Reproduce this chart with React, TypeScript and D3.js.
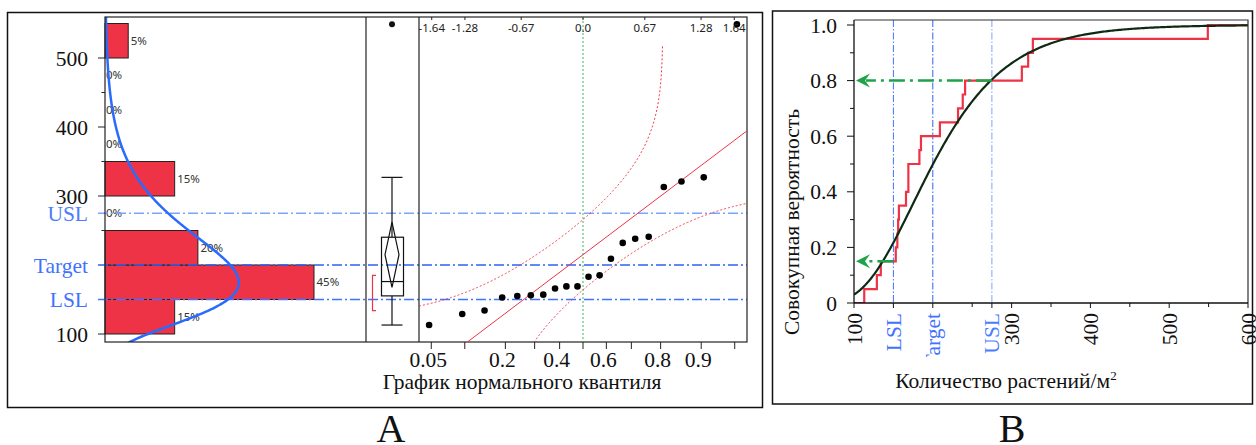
import React from 'react';
import * as d3 from 'd3';

// ---------------- data ----------------
const plantCounts = [113, 129, 134, 153, 155, 156, 157, 166, 169, 169, 183, 185, 209, 232, 238, 241, 313, 321, 327, 549];
const histBinEdges = [100, 150, 200, 250, 300, 350, 400, 450, 500, 550];
const specNames = ['LSL', 'Target', 'USL'];
const specValues = [150, 200, 275];
const histTickValues = [100, 300, 400, 500];
const histTickLabels = ['100', '300', '400', '500'];
const histMinorTicks = [250, 350, 450];
const zTickValues = [-1.64, -1.28, -0.67, 0.0, 0.67, 1.28, 1.64];
const zTickLabels = ['-1.64', '-1.28', '-0.67', '0.0', '0.67', '1.28', '1.64'];
const probTickValues = [0.05, 0.1, 0.2, 0.3, 0.4, 0.5, 0.6, 0.7, 0.8, 0.9, 0.95];
const probTickLabels = ['0.05', '0.2', '0.4', '0.6', '0.8', '0.9'];
const cdfTickValues = [0, 0.2, 0.4, 0.6, 0.8, 1.0];
const cdfTickLabels = ['0', '0.2', '0.4', '0.6', '0.8', '1.0'];
const cdfMinorTicks = [0.1, 0.3, 0.5, 0.7, 0.9];
const countTickValues = [100, 300, 400, 500, 600];
const countTickLabels = ['100', '300', '400', '500', '600'];
const countMinorTicks = [250, 350, 450, 550];
const FIT_MU = 5.30; // lognormal fit (log scale)
const FIT_SIGMA = 0.37;
const LILLIEFORS_D = 0.193;
const T_CRIT = 2.093;

// ---------------- styles ----------------
const SERIF = "'Liberation Serif','Times New Roman',serif";
const SANS = "'Noto Sans','Open Sans',sans-serif";
const RED = '#ee3347';
const specLineColors = ['#3f73ff', '#2f62f2', '#7aa5ff'];
const specTextColors = ['#3f72ff', '#3f72ff', '#4b7dff'];
const GREEN = '#1fa34a';
const FS = 21.5;

// ---------------- stats helpers ----------------
function erf(x: number) {
  const s = Math.sign(x);
  const a = Math.abs(x);
  const t = 1 / (1 + 0.3275911 * a);
  const y = 1 - (((((1.061405429 * t - 1.453152027) * t) + 1.421413741) * t - 0.284496736) * t + 0.254829592) * t * Math.exp(-a * a);
  return s * y;
}
const Phi = (z: number) => 0.5 * (1 + erf(z / Math.SQRT2));
function PhiInv(p: number) {
  const a = [-3.969683028665376e+01, 2.209460984245205e+02, -2.759285104469687e+02, 1.383577518672690e+02, -3.066479806614716e+01, 2.506628277459239e+00];
  const b = [-5.447609879822406e+01, 1.615858368580409e+02, -1.556989798598866e+02, 6.680131188771972e+01, -1.328068155288572e+01];
  const c = [-7.784894002430293e-03, -3.223964580411365e-01, -2.400758277161838e+00, -2.549671010115819e+00, 4.374664141464968e+00, 2.938163982698783e+00];
  const d = [7.784695709041462e-03, 3.224671290700398e-01, 2.445134137142996e+00, 3.754408661907416e+00];
  const plow = 0.02425;
  if (p < plow) {
    const q = Math.sqrt(-2 * Math.log(p));
    return (((((c[0] * q + c[1]) * q + c[2]) * q + c[3]) * q + c[4]) * q + c[5]) / ((((d[0] * q + d[1]) * q + d[2]) * q + d[3]) * q + 1);
  }
  if (p > 1 - plow) {
    const q = Math.sqrt(-2 * Math.log(1 - p));
    return -(((((c[0] * q + c[1]) * q + c[2]) * q + c[3]) * q + c[4]) * q + c[5]) / ((((d[0] * q + d[1]) * q + d[2]) * q + d[3]) * q + 1);
  }
  const q = p - 0.5;
  const r = q * q;
  return (((((a[0] * r + a[1]) * r + a[2]) * r + a[3]) * r + a[4]) * r + a[5]) * q / (((((b[0] * r + b[1]) * r + b[2]) * r + b[3]) * r + b[4]) * r + 1);
}
const logNormPdf = (v: number) => Math.exp(-Math.pow(Math.log(v) - FIT_MU, 2) / (2 * FIT_SIGMA * FIT_SIGMA)) / (v * FIT_SIGMA * Math.sqrt(2 * Math.PI));
const logNormCdf = (v: number) => Phi((Math.log(v) - FIT_MU) / FIT_SIGMA);

function jmpQuantile(sorted: number[], p: number) {
  const pos = (sorted.length + 1) * p;
  const i = Math.floor(pos);
  const f = pos - i;
  if (i < 1) return sorted[0];
  if (i >= sorted.length) return sorted[sorted.length - 1];
  return sorted[i - 1] + f * (sorted[i] - sorted[i - 1]);
}

export default function App() {
  const sorted = [...plantCounts].sort((a, b) => a - b);
  const n = sorted.length;
  const mean = d3.mean(sorted) as number;
  const sd = d3.deviation(sorted) as number;

  // ---- Panel A geometry ----
  const L = 105, HR = 366, BR = 419, R = 747, T = 17, B = 342;
  const yA = d3.scaleLinear().domain([100, 500]).range([334, 58]);
  const xH = d3.scaleLinear().domain([0, 45]).range([L, 314]);
  const zDom = 1.778;
  const xQ = d3.scaleLinear().domain([-zDom, zDom]).range([BR, R]);

  const bins = d3.bin().domain([100, 550]).thresholds(histBinEdges.slice(1, -1))(sorted);
  const pct = bins.map(b => (b.length / n) * 100);

  // density curve
  const vGrid = d3.range(80, 566, 2);
  const densLine = d3.line<number>().x(v => xH(logNormPdf(v) * 50 * 100)).y(v => yA(v)).curve(d3.curveBasis)(vGrid) || '';

  // box plot stats
  const q1 = jmpQuantile(sorted, 0.25);
  const q3 = jmpQuantile(sorted, 0.75);
  const med = jmpQuantile(sorted, 0.5);
  const iqr = q3 - q1;
  const upperW = d3.max(sorted.filter(v => v <= q3 + 1.5 * iqr)) as number;
  const lowerW = d3.min(sorted.filter(v => v >= q1 - 1.5 * iqr)) as number;
  const outliers = sorted.filter(v => v > upperW || v < lowerW);
  const ci = T_CRIT * sd / Math.sqrt(n);
  const half = Math.ceil(n / 2);
  let shortLo = 0, shortHi = Infinity;
  for (let i = 0; i + half - 1 < n; i++) {
    const r = sorted[i + half - 1] - sorted[i];
    if (r < shortHi - shortLo) { shortLo = sorted[i]; shortHi = sorted[i + half - 1]; }
  }
  const cx = 392;

  // quantile plot
  const qPts = sorted.map((v, i) => ({ z: PhiInv((i + 1) / (n + 1)), v }));
  const zGrid = d3.range(-zDom, zDom + 0.001, 0.005);
  const bandPts = (sign: number) => zGrid
    .map(z => ({ z, p: Phi(z) + sign * LILLIEFORS_D }))
    .filter(d => d.p > 1e-6 && d.p < 1 - 1e-6)
    .map(d => [xQ(d.z), yA(mean + sd * PhiInv(d.p))] as [number, number]);
  const upperBand = d3.line()(bandPts(1)) || '';
  const lowerBand = d3.line()(bandPts(-1)) || '';

  // ---- Panel B geometry ----
  const BL = 854, BRt = 1248, BT = 20, BB = 303;
  const xB = d3.scaleLinear().domain([100, 600]).range([BL, BRt]);
  const yB = d3.scaleLinear().domain([0, 1]).range([BB, 25]);
  const ecdfPts: [number, number][] = [[100, 0], ...sorted.map((v, i) => [v, (i + 1) / n] as [number, number]), [600, 1]];
  const ecdfPath = d3.line().x(d => xB(d[0])).y(d => yB(d[1])).curve(d3.curveStepAfter)(ecdfPts) || '';
  const cdfGrid = d3.range(100, 601, 2);
  const cdfPath = d3.line<number>().x(v => xB(v)).y(v => yB(logNormCdf(v)))(cdfGrid) || '';
  const ecdfAt = (v: number) => sorted.filter(s => s <= v).length / n;
  const arrowLevels = [specValues[2], specValues[0]].map(v => ({ v, p: ecdfAt(v) }));

  return (
    <svg width={1256} height={445} style={{ position: 'absolute', left: 0, top: 0, background: '#fff' }}>
      <defs>
        <clipPath id="clipHist"><rect x={L} y={T} width={HR - L} height={B - T} /></clipPath>
        <clipPath id="clipQ"><rect x={BR} y={T} width={R - BR} height={B - T} /></clipPath>
        <clipPath id="clipB"><rect x={BL} y={BT} width={BRt - BL} height={BB - BT} /></clipPath>
        <clipPath id="clipBTicks"><rect x={BL - 20} y={BB} width={BRt - BL + 40} height={357 - BB} /></clipPath>
      </defs>
      <rect width={1256} height={445} fill="#fff" />

      {/* ============ Panel A ============ */}
      <rect x={7.5} y={12.5} width={755} height={395} fill="none" stroke="#111" strokeWidth={1.5} />

      {/* histogram bars */}
      {bins.map((b, i) => pct[i] > 0 ? (
        <rect key={'bar' + i} x={L} y={yA(b.x1 as number)} width={xH(pct[i]) - L} height={yA(b.x0 as number) - yA(b.x1 as number)}
          fill={RED} stroke="#222" strokeWidth={1} />
      ) : null)}
      {bins.map((b, i) => (
        <text key={'pl' + i} x={pct[i] > 0 ? xH(pct[i]) + 2.5 : L + 1} y={yA(((b.x0 as number) + (b.x1 as number)) / 2)} dy="0.35em"
          fontFamily={SANS} fontSize={11.5} fill="#333">{`${Math.round(pct[i])}%`}</text>
      ))}

      {/* spec reference lines */}
      {specValues.map((v, i) => (
        <line key={'sl' + i} x1={98} x2={R} y1={yA(v)} y2={yA(v)} stroke={specLineColors[i]} strokeWidth={i === 2 ? 1.7 : 1.3} strokeDasharray="10,3,2,3" />
      ))}

      {/* density curve */}
      <path d={densLine} fill="none" stroke="#2a6bff" strokeWidth={2.5} clipPath="url(#clipHist)" />

      {/* frame of A plots */}
      <rect x={L} y={T} width={R - L} height={B - T} fill="none" stroke="#222" strokeWidth={1.2} />
      <line x1={HR} x2={HR} y1={T} y2={B} stroke="#222" strokeWidth={1.2} />
      <line x1={BR} x2={BR} y1={T} y2={B} stroke="#222" strokeWidth={1.2} />

      {/* y axis ticks and labels */}
      {histTickValues.map((v, i) => (
        <g key={'ht' + i}>
          <line x1={98} x2={L} y1={yA(v)} y2={yA(v)} stroke="#222" />
          <text x={88} y={yA(v)} dy="0.35em" textAnchor="end" fontFamily={SERIF} fontSize={FS} fill="#111">{histTickLabels[i]}</text>
        </g>
      ))}
      {histMinorTicks.map((v, i) => (
        <line key={'hm' + i} x1={101.5} x2={L} y1={yA(v)} y2={yA(v)} stroke="#222" />
      ))}
      {specValues.map((v, i) => (
        <text key={'st' + i} x={88} y={yA(v)} dy="0.35em" textAnchor="end" fontFamily={SERIF} fontSize={FS} fill={specTextColors[i]}>{specNames[i]}</text>
      ))}

      {/* box plot */}
      <g stroke="#111" strokeWidth={1.2} fill="none">
        <line x1={cx} x2={cx} y1={yA(upperW)} y2={yA(q3)} />
        <line x1={cx} x2={cx} y1={yA(q1)} y2={yA(lowerW)} />
        <line x1={cx - 10.5} x2={cx + 10.5} y1={yA(upperW)} y2={yA(upperW)} />
        <line x1={cx - 10.5} x2={cx + 10.5} y1={yA(lowerW)} y2={yA(lowerW)} />
        <rect x={cx - 10.5} y={yA(q3)} width={22} height={yA(q1) - yA(q3)} />
        <line x1={cx - 10.5} x2={cx + 11.5} y1={yA(med)} y2={yA(med)} />
        <path d={`M${cx},${yA(mean + ci)}L${cx + 7},${yA(mean)}L${cx},${yA(mean - ci)}L${cx - 7},${yA(mean)}Z`} />
      </g>
      <path d={`M376,${yA(shortHi)}H372.5V${yA(shortLo)}H376`} fill="none" stroke={RED} strokeWidth={1.2} />
      {outliers.map((v, i) => (
        <circle key={'out' + i} cx={cx} cy={yA(v)} r={3} fill="#111" />
      ))}

      {/* quantile plot */}
      <line x1={xQ(0)} x2={xQ(0)} y1={T} y2={B} stroke="#3cb64a" strokeWidth={1} strokeDasharray="2,2" />
      <g clipPath="url(#clipQ)">
        <path d={upperBand} fill="none" stroke={RED} strokeWidth={1} strokeDasharray="2,2" />
        <path d={lowerBand} fill="none" stroke={RED} strokeWidth={1} strokeDasharray="2,2" />
        <line x1={xQ(-zDom)} x2={xQ(zDom)} y1={yA(mean - sd * zDom)} y2={yA(mean + sd * zDom)} stroke={RED} strokeWidth={1} />
      </g>
      {qPts.map((d, i) => (
        <circle key={'qp' + i} cx={xQ(d.z)} cy={yA(d.v)} r={3.3} fill="#000" />
      ))}
      {zTickValues.map((z, i) => (
        <g key={'zt' + i}>
          <line x1={xQ(z)} x2={xQ(z)} y1={T} y2={T + 3} stroke="#222" />
          <text x={xQ(z)} y={32} textAnchor="middle" fontFamily={SANS} fontSize={11.5} fill="#222">{zTickLabels[i]}</text>
        </g>
      ))}
      {probTickValues.map((p, i) => (
        <line key={'pt' + i} x1={xQ(PhiInv(p))} x2={xQ(PhiInv(p))} y1={B} y2={B + 7} stroke="#222" />
      ))}
      {probTickLabels.map((lab, i) => (
        <text key={'plb' + i} x={xQ(PhiInv(+lab)) - 3} y={367} textAnchor="middle" fontFamily={SERIF} fontSize={FS} fill="#111">{lab}</text>
      ))}
      <text x={522} y={389} textAnchor="middle" fontFamily={SERIF} fontSize={FS} fill="#111">График нормального квантиля</text>
      <text x={391} y={442} textAnchor="middle" fontFamily={SERIF} fontSize={40} fill="#111">A</text>

      {/* ============ Panel B ============ */}
      <rect x={772.5} y={11} width={480} height={393} fill="none" stroke="#111" strokeWidth={1.5} />
      {/* spec vertical lines */}
      {specValues.map((v, i) => (
        <line key={'bv' + i} x1={xB(v)} x2={xB(v)} y1={BT} y2={BB} stroke={specLineColors[i]} strokeWidth={1} strokeDasharray="7,2,1.5,2" />
      ))}
      <g clipPath="url(#clipB)">
        <path d={ecdfPath} fill="none" stroke={RED} strokeWidth={2.2} />
        <path d={cdfPath} fill="none" stroke="#0f2a14" strokeWidth={2.2} />
      </g>
      {/* green arrows */}
      {arrowLevels.map((a, i) => (
        <g key={'ar' + i}>
          <line x1={xB(a.v)} x2={BL + 12} y1={yB(a.p)} y2={yB(a.p)} stroke={GREEN} strokeWidth={2.5} strokeDasharray="16,5,3,5" />
          <path d={`M${BL + 2},${yB(a.p)}L${BL + 16},${yB(a.p) - 7}L${BL + 11},${yB(a.p)}L${BL + 16},${yB(a.p) + 7}Z`} fill={GREEN} />
        </g>
      ))}
      {/* frame */}
      <path d={`M${BL},${BT}H${BRt}V${BB}`} fill="none" stroke="#333" strokeWidth={1.2} />
      <line x1={BL} x2={BL} y1={BT} y2={BB} stroke="#111" strokeWidth={1.3} />
      <line x1={BL} x2={BRt} y1={BB} y2={BB} stroke="#111" strokeWidth={1.3} />
      {/* y axis */}
      {cdfTickValues.map((v, i) => (
        <g key={'cy' + i}>
          <line x1={BL - 7} x2={BL} y1={yB(v)} y2={yB(v)} stroke="#111" />
          <text x={837} y={yB(v)} dy="0.35em" textAnchor="end" fontFamily={SERIF} fontSize={FS} fill="#111">{cdfTickLabels[i]}</text>
        </g>
      ))}
      {cdfMinorTicks.map((v, i) => (
        <line key={'cm' + i} x1={BL - 4} x2={BL} y1={yB(v)} y2={yB(v)} stroke="#111" />
      ))}
      <text transform={`translate(799,222) rotate(-90)`} textAnchor="middle" fontFamily={SERIF} fontSize={FS} fill="#111">Совокупная вероятность</text>
      {/* x axis */}
      {countTickValues.map((v, i) => (
        <g key={'cx' + i}>
          <line x1={xB(v)} x2={xB(v)} y1={BB} y2={BB + 5} stroke="#111" />
          <text transform={`translate(${xB(v)},313) rotate(-90)`} textAnchor="end" dy="0.35em" fontFamily={SERIF} fontSize={FS} fill="#111">{countTickLabels[i]}</text>
        </g>
      ))}
      {countMinorTicks.map((v, i) => (
        <line key={'cxm' + i} x1={xB(v)} x2={xB(v)} y1={BB} y2={BB + 4} stroke="#111" />
      ))}
      <g clipPath="url(#clipBTicks)">
        {specValues.map((v, i) => (
          <g key={'bst' + i}>
            <line x1={xB(v)} x2={xB(v)} y1={BB} y2={BB + 5} stroke="#111" />
            <text transform={`translate(${xB(v)},313) rotate(-90)`} textAnchor="end" dy="0.35em" fontFamily={SERIF} fontSize={FS} fill={specTextColors[i]}>{specNames[i]}</text>
          </g>
        ))}
      </g>
      <text x={1006} y={388} textAnchor="middle" fontFamily={SERIF} fontSize={FS} fill="#111">
        Количество растений/м<tspan dy={-8} fontSize={13}>2</tspan>
      </text>
      <text x={1012} y={442} textAnchor="middle" fontFamily={SERIF} fontSize={40} fill="#111">B</text>
    </svg>
  );
}
